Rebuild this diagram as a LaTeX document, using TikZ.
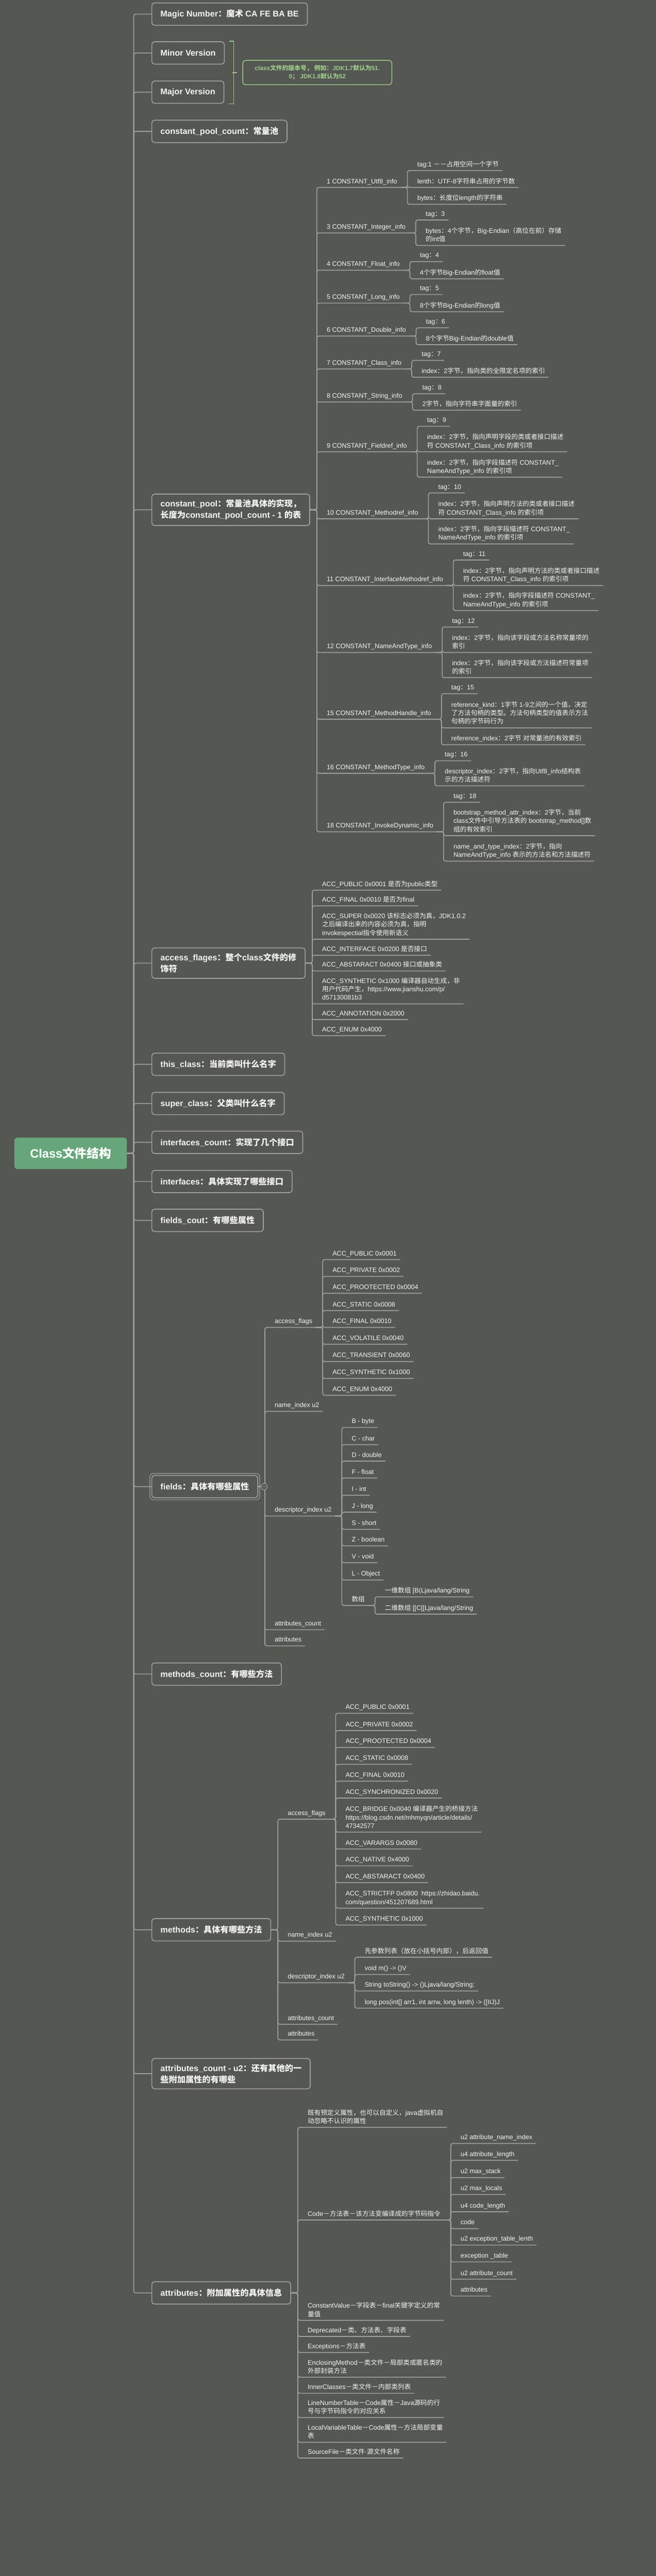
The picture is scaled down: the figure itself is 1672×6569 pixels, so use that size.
\documentclass[tikz,border=0pt]{standalone}
\usepackage{fontspec}
\setmainfont{Liberation Sans}
\newfontfamily\latinfont{Liberation Sans}
\newfontfamily\cjkfont{Noto Sans CJK SC}

% switch to the CJK font for Chinese characters
\XeTeXinterchartokenstate=1
\newXeTeXintercharclass\cjkclass
\newcount\cjkcode
\cjkcode="2E80
\loop\XeTeXcharclass\cjkcode=\cjkclass\advance\cjkcode by 1 \ifnum\cjkcode<"A000 \repeat
\cjkcode="FF00
\loop\XeTeXcharclass\cjkcode=\cjkclass\advance\cjkcode by 1 \ifnum\cjkcode<"FFF0 \repeat
\XeTeXinterchartoks 0 \cjkclass={\cjkfont}
\XeTeXinterchartoks 4095 \cjkclass={\cjkfont}
\XeTeXinterchartoks \cjkclass 0={\latinfont}
\XeTeXinterchartoks \cjkclass 4095={\latinfont}

\definecolor{bg}{HTML}{555753}
\definecolor{linegray}{HTML}{A0A0A0}
\definecolor{fg}{HTML}{F4F4F4}
\definecolor{rootgreen}{HTML}{67A67A}
\definecolor{notegreen}{HTML}{9CCB8B}

\tikzset{
  root/.style={fill=rootgreen, rounded corners=8pt, text=white,
    font={\bfseries\fontsize{31pt}{36pt}\selectfont}, minimum width=287pt, minimum height=80pt},
  box/.style={draw=linegray, line width=2.2pt, rounded corners=7pt, fill=bg, text=fg,
    font={\bfseries\fontsize{21.3pt}{29pt}\selectfont}, inner xsep=22pt, inner ysep=14pt,
    minimum height=57pt, anchor=west, align=left},
  leaf/.style={text=fg, font={\fontsize{16.6pt}{21.5pt}\selectfont}, anchor=south west,
    inner xsep=9pt, inner ysep=6pt, text depth=4pt, align=left},
  note/.style={draw=notegreen, text=notegreen, line width=2pt, rounded corners=7pt, anchor=west,
    align=center, minimum width=380pt, minimum height=62pt,
    font={\bfseries\fontsize{15.5pt}{21pt}\selectfont}},
  branch/.style={draw=linegray, line width=2.2pt, rounded corners=5pt},
  summary/.style={draw=notegreen, line width=2pt},
  selring/.style={draw=linegray, line width=1.5pt, rounded corners=9pt},
  fold/.style={draw=linegray, line width=1.5pt, fill=bg}
}

\begin{document}
\begin{tikzpicture}[x=1pt, y=-1pt]

% Draw the background
\useasboundingbox (0,0) rectangle (1672,6569);
\fill[bg] (0,0) rectangle (1672,6569);

% Draw the root
\node[root] (root) at (180,2941) {Class文件结构};

%% Draw the top level items
\node[box] (magic) at (386,36) {Magic Number：魔术 CA FE BA BE};
\node[box] (minor) at (386,135) {Minor Version};
\node[box] (major) at (386,235) {Major Version};
\node[box] (cpcount) at (386,335) {constant\_pool\_count：常量池};
\node[box] (cpool) at (386,1300) {constant\_pool：常量池具体的实现，\\长度为constant\_pool\_count - 1 的表};
\node[box] (access) at (386,2456) {access\_flages：整个class文件的修\\饰符};
\node[box] (thisc) at (386,2714) {this\_class：当前类叫什么名字};
\node[box] (superc) at (386,2814) {super\_class：父类叫什么名字};
\node[box] (ifcount) at (386,2913) {interfaces\_count：实现了几个接口};
\node[box] (ifaces) at (386,3013) {interfaces：具体实现了哪些接口};
\node[box] (fcount) at (386,3112) {fields\_cout：有哪些属性};
\node[box] (fields) at (386,3791) {fields：具体有哪些属性};
\node[box] (mcount) at (386,4269) {methods\_count：有哪些方法};
\node[box] (methods) at (386,4921) {methods：具体有哪些方法};
\node[box] (acount) at (386,5288) {attributes\_count - u2：还有其他的一\\些附加属性的有哪些};
\node[box] (attrs) at (386,5847) {attributes：附加属性的具体信息};

% Draw the trunk
\draw[branch] (root.east) -| ([xshift=-45pt]magic.west) -- (magic.west);
\draw[branch] (root.east) -| ([xshift=-45pt]minor.west) -- (minor.west);
\draw[branch] (root.east) -| ([xshift=-45pt]major.west) -- (major.west);
\draw[branch] (root.east) -| ([xshift=-45pt]cpcount.west) -- (cpcount.west);
\draw[branch] (root.east) -| ([xshift=-45pt]cpool.west) -- (cpool.west);
\draw[branch] (root.east) -| ([xshift=-45pt]access.west) -- (access.west);
\draw[branch] (root.east) -| ([xshift=-45pt]thisc.west) -- (thisc.west);
\draw[branch] (root.east) -| ([xshift=-45pt]superc.west) -- (superc.west);
\draw[branch] (root.east) -| ([xshift=-45pt]ifcount.west) -- (ifcount.west);
\draw[branch] (root.east) -| ([xshift=-45pt]ifaces.west) -- (ifaces.west);
\draw[branch] (root.east) -| ([xshift=-45pt]fcount.west) -- (fcount.west);
\draw[branch] (root.east) -| ([xshift=-45pt]fields.west) -- (fields.west);
\draw[branch] (root.east) -| ([xshift=-45pt]mcount.west) -- (mcount.west);
\draw[branch] (root.east) -| ([xshift=-45pt]methods.west) -- (methods.west);
\draw[branch] (root.east) -| ([xshift=-45pt]acount.west) -- (acount.west);
\draw[branch] (root.east) -| ([xshift=-45pt]attrs.west) -- (attrs.west);

%% Version note
\node[note] (vnote) at (618,185) {class文件的版本号， 例如：JDK1.7默认为51.\\0； JDK1.8默认为52};
\draw[summary] ([xshift=11pt]minor.north east) -| ([xshift=24pt]major.south east) -- ([xshift=11pt]major.south east);
\draw[summary] ([xshift=-14pt]vnote.west) -- ([xshift=-26pt]vnote.west);

% Draw the constant pool
\node[leaf] (cp1) at ([shift={(33,-822)}]cpool.east) {1 CONSTANT\_Utf8\_info};
\node[leaf] (cp3) at ([shift={(33,-706)}]cpool.east) {3 CONSTANT\_Integer\_info};
\node[leaf] (cp4) at ([shift={(33,-611)}]cpool.east) {4 CONSTANT\_Float\_info};
\node[leaf] (cp5) at ([shift={(33,-527)}]cpool.east) {5 CONSTANT\_Long\_info};
\node[leaf] (cp6) at ([shift={(33,-443)}]cpool.east) {6 CONSTANT\_Double\_info};
\node[leaf] (cp7) at ([shift={(33,-359)}]cpool.east) {7 CONSTANT\_Class\_info};
\node[leaf] (cp8) at ([shift={(33,-275)}]cpool.east) {8 CONSTANT\_String\_info};
\node[leaf] (cp9) at ([shift={(33,-148)}]cpool.east) {9 CONSTANT\_Fieldref\_info};
\node[leaf] (cp10) at ([shift={(33,23)}]cpool.east) {10 CONSTANT\_Methodref\_info};
\node[leaf] (cp11) at ([shift={(33,193)}]cpool.east) {11 CONSTANT\_InterfaceMethodref\_info};
\node[leaf] (cp12) at ([shift={(33,364)}]cpool.east) {12 CONSTANT\_NameAndType\_info};
\node[leaf] (cp15) at ([shift={(33,534)}]cpool.east) {15 CONSTANT\_MethodHandle\_info};
\node[leaf] (cp16) at ([shift={(33,672)}]cpool.east) {16 CONSTANT\_MethodType\_info};
\node[leaf] (cp18) at ([shift={(33,821)}]cpool.east) {18 CONSTANT\_InvokeDynamic\_info};

\draw[branch] (cpool.east) -| ([xshift=-16pt]cp1.south west) -- (cp1.south east);
\draw[branch] (cpool.east) -| ([xshift=-16pt]cp3.south west) -- (cp3.south east);
\draw[branch] (cpool.east) -| ([xshift=-16pt]cp4.south west) -- (cp4.south east);
\draw[branch] (cpool.east) -| ([xshift=-16pt]cp5.south west) -- (cp5.south east);
\draw[branch] (cpool.east) -| ([xshift=-16pt]cp6.south west) -- (cp6.south east);
\draw[branch] (cpool.east) -| ([xshift=-16pt]cp7.south west) -- (cp7.south east);
\draw[branch] (cpool.east) -| ([xshift=-16pt]cp8.south west) -- (cp8.south east);
\draw[branch] (cpool.east) -| ([xshift=-16pt]cp9.south west) -- (cp9.south east);
\draw[branch] (cpool.east) -| ([xshift=-16pt]cp10.south west) -- (cp10.south east);
\draw[branch] (cpool.east) -| ([xshift=-16pt]cp11.south west) -- (cp11.south east);
\draw[branch] (cpool.east) -| ([xshift=-16pt]cp12.south west) -- (cp12.south east);
\draw[branch] (cpool.east) -| ([xshift=-16pt]cp15.south west) -- (cp15.south east);
\draw[branch] (cpool.east) -| ([xshift=-16pt]cp16.south west) -- (cp16.south east);
\draw[branch] (cpool.east) -| ([xshift=-16pt]cp18.south west) -- (cp18.south east);

%% Constant entries
\node[leaf] (cp1a) at ([shift={(33,-43)}]cp1.south east) {tag:1 －－占用空间一个字节};
\node[leaf] (cp1b) at ([shift={(33,0)}]cp1.south east) {lenth：UTF-8字符串占用的字节数};
\node[leaf] (cp1c) at ([shift={(33,43)}]cp1.south east) {bytes：长度位length的字符串};
\node[leaf] (cp3a) at ([shift={(33,-33)}]cp3.south east) {tag：3};
\node[leaf] (cp3b) at ([shift={(33,32)}]cp3.south east) {bytes：4个字节，Big-Endian（高位在前）存储\\的int值};
\node[leaf] (cp4a) at ([shift={(33,-22)}]cp4.south east) {tag：4};
\node[leaf] (cp4b) at ([shift={(33,22)}]cp4.south east) {4个字节Big-Endian的float值};
\node[leaf] (cp5a) at ([shift={(33,-22)}]cp5.south east) {tag：5};
\node[leaf] (cp5b) at ([shift={(33,22)}]cp5.south east) {8个字节Big-Endian的long值};
\node[leaf] (cp6a) at ([shift={(33,-21)}]cp6.south east) {tag：6};
\node[leaf] (cp6b) at ([shift={(33,22)}]cp6.south east) {8个字节Big-Endian的double值};
\node[leaf] (cp7a) at ([shift={(33,-22)}]cp7.south east) {tag：7};
\node[leaf] (cp7b) at ([shift={(33,21)}]cp7.south east) {index：2字节，指向类的全限定名项的索引};
\node[leaf] (cp8a) at ([shift={(33,-21)}]cp8.south east) {tag：8};
\node[leaf] (cp8b) at ([shift={(33,21)}]cp8.south east) {2字节，指向字符串字面量的索引};
\node[leaf] (cp9a) at ([shift={(33,-65)}]cp9.south east) {tag：9};
\node[leaf] (cp9b) at ([shift={(33,0)}]cp9.south east) {index：2字节，指向声明字段的类或者接口描述\\符 CONSTANT\_Class\_info 的索引项};
\node[leaf] (cp9c) at ([shift={(33,65)}]cp9.south east) {index：2字节，指向字段描述符 CONSTANT\_\\NameAndType\_info 的索引项};
\node[leaf] (cp10a) at ([shift={(33,-66)}]cp10.south east) {tag：10};
\node[leaf] (cp10b) at ([shift={(33,0)}]cp10.south east) {index：2字节，指向声明方法的类或者接口描述\\符 CONSTANT\_Class\_info 的索引项};
\node[leaf] (cp10c) at ([shift={(33,64)}]cp10.south east) {index：2字节，指向字段描述符 CONSTANT\_\\NameAndType\_info 的索引项};
\node[leaf] (cp11a) at ([shift={(33,-65)}]cp11.south east) {tag：11};
\node[leaf] (cp11b) at ([shift={(33,0)}]cp11.south east) {index：2字节，指向声明方法的类或者接口描述\\符 CONSTANT\_Class\_info 的索引项};
\node[leaf] (cp11c) at ([shift={(33,64)}]cp11.south east) {index：2字节，指向字段描述符 CONSTANT\_\\NameAndType\_info 的索引项};
\node[leaf] (cp12a) at ([shift={(33,-65)}]cp12.south east) {tag：12};
\node[leaf] (cp12b) at ([shift={(33,0)}]cp12.south east) {index：2字节，指向该字段或方法名称常量项的\\索引};
\node[leaf] (cp12c) at ([shift={(33,64)}]cp12.south east) {index：2字节，指向该字段或方法描述符常量项\\的索引};
\node[leaf] (cp15a) at ([shift={(33,-65)}]cp15.south east) {tag：15};
\node[leaf] (cp15b) at ([shift={(33,22)}]cp15.south east) {reference\_kind：1字节 1-9之间的一个值，决定\\了方法句柄的类型。方法句柄类型的值表示方法\\句柄的字节码行为};
\node[leaf] (cp15c) at ([shift={(33,65)}]cp15.south east) {reference\_index：2字节 对常量池的有效索引};
\node[leaf] (cp16a) at ([shift={(33,-32)}]cp16.south east) {tag：16};
\node[leaf] (cp16b) at ([shift={(33,32)}]cp16.south east) {descriptor\_index：2字节，指向Utf8\_info结构表\\示的方法描述符};
\node[leaf] (cp18a) at ([shift={(33,-75)}]cp18.south east) {tag：18};
\node[leaf] (cp18b) at ([shift={(33,10)}]cp18.south east) {bootstrap\_method\_attr\_index：2字节，当前\\class文件中引导方法表的 bootstrap\_method[]数\\组的有效索引};
\node[leaf] (cp18c) at ([shift={(33,75)}]cp18.south east) {name\_and\_type\_index：2字节，指向\\NameAndType\_info 表示的方法名和方法描述符};

\draw[branch] (cp1.south east) -| ([xshift=-16pt]cp1a.south west) -- (cp1a.south east);
\draw[branch] (cp1.south east) -| ([xshift=-16pt]cp1b.south west) -- (cp1b.south east);
\draw[branch] (cp1.south east) -| ([xshift=-16pt]cp1c.south west) -- (cp1c.south east);
\draw[branch] (cp3.south east) -| ([xshift=-16pt]cp3a.south west) -- (cp3a.south east);
\draw[branch] (cp3.south east) -| ([xshift=-16pt]cp3b.south west) -- (cp3b.south east);
\draw[branch] (cp4.south east) -| ([xshift=-16pt]cp4a.south west) -- (cp4a.south east);
\draw[branch] (cp4.south east) -| ([xshift=-16pt]cp4b.south west) -- (cp4b.south east);
\draw[branch] (cp5.south east) -| ([xshift=-16pt]cp5a.south west) -- (cp5a.south east);
\draw[branch] (cp5.south east) -| ([xshift=-16pt]cp5b.south west) -- (cp5b.south east);
\draw[branch] (cp6.south east) -| ([xshift=-16pt]cp6a.south west) -- (cp6a.south east);
\draw[branch] (cp6.south east) -| ([xshift=-16pt]cp6b.south west) -- (cp6b.south east);
\draw[branch] (cp7.south east) -| ([xshift=-16pt]cp7a.south west) -- (cp7a.south east);
\draw[branch] (cp7.south east) -| ([xshift=-16pt]cp7b.south west) -- (cp7b.south east);
\draw[branch] (cp8.south east) -| ([xshift=-16pt]cp8a.south west) -- (cp8a.south east);
\draw[branch] (cp8.south east) -| ([xshift=-16pt]cp8b.south west) -- (cp8b.south east);
\draw[branch] (cp9.south east) -| ([xshift=-16pt]cp9a.south west) -- (cp9a.south east);
\draw[branch] (cp9.south east) -| ([xshift=-16pt]cp9b.south west) -- (cp9b.south east);
\draw[branch] (cp9.south east) -| ([xshift=-16pt]cp9c.south west) -- (cp9c.south east);
\draw[branch] (cp10.south east) -| ([xshift=-16pt]cp10a.south west) -- (cp10a.south east);
\draw[branch] (cp10.south east) -| ([xshift=-16pt]cp10b.south west) -- (cp10b.south east);
\draw[branch] (cp10.south east) -| ([xshift=-16pt]cp10c.south west) -- (cp10c.south east);
\draw[branch] (cp11.south east) -| ([xshift=-16pt]cp11a.south west) -- (cp11a.south east);
\draw[branch] (cp11.south east) -| ([xshift=-16pt]cp11b.south west) -- (cp11b.south east);
\draw[branch] (cp11.south east) -| ([xshift=-16pt]cp11c.south west) -- (cp11c.south east);
\draw[branch] (cp12.south east) -| ([xshift=-16pt]cp12a.south west) -- (cp12a.south east);
\draw[branch] (cp12.south east) -| ([xshift=-16pt]cp12b.south west) -- (cp12b.south east);
\draw[branch] (cp12.south east) -| ([xshift=-16pt]cp12c.south west) -- (cp12c.south east);
\draw[branch] (cp15.south east) -| ([xshift=-16pt]cp15a.south west) -- (cp15a.south east);
\draw[branch] (cp15.south east) -| ([xshift=-16pt]cp15b.south west) -- (cp15b.south east);
\draw[branch] (cp15.south east) -| ([xshift=-16pt]cp15c.south west) -- (cp15c.south east);
\draw[branch] (cp16.south east) -| ([xshift=-16pt]cp16a.south west) -- (cp16a.south east);
\draw[branch] (cp16.south east) -| ([xshift=-16pt]cp16b.south west) -- (cp16b.south east);
\draw[branch] (cp18.south east) -| ([xshift=-16pt]cp18a.south west) -- (cp18a.south east);
\draw[branch] (cp18.south east) -| ([xshift=-16pt]cp18b.south west) -- (cp18b.south east);
\draw[branch] (cp18.south east) -| ([xshift=-16pt]cp18c.south west) -- (cp18c.south east);

% Draw the access flags
\node[leaf] (af1) at ([shift={(33,-186)}]access.east) {ACC\_PUBLIC 0x0001 是否为public类型};
\node[leaf] (af2) at ([shift={(33,-146)}]access.east) {ACC\_FINAL 0x0010 是否为final};
\node[leaf] (af3) at ([shift={(33,-61)}]access.east) {ACC\_SUPER 0x0020 该标志必须为真，JDK1.0.2\\之后编译出来的内容必须为真，指明\\invokespectial指令使用新语义};
\node[leaf] (af4) at ([shift={(33,-20)}]access.east) {ACC\_INTERFACE 0x0200 是否接口};
\node[leaf] (af5) at ([shift={(33,20)}]access.east) {ACC\_ABSTARACT 0x0400 接口或抽象类};
\node[leaf] (af6) at ([shift={(33,104)}]access.east) {ACC\_SYNTHETIC 0x1000 编译器自动生成，非\\用户代码产生，https://www.jianshu.com/p/\\d57130081b3};
\node[leaf] (af7) at ([shift={(33,144)}]access.east) {ACC\_ANNOTATION 0x2000};
\node[leaf] (af8) at ([shift={(33,185)}]access.east) {ACC\_ENUM 0x4000};

\draw[branch] (access.east) -| ([xshift=-16pt]af1.south west) -- (af1.south east);
\draw[branch] (access.east) -| ([xshift=-16pt]af2.south west) -- (af2.south east);
\draw[branch] (access.east) -| ([xshift=-16pt]af3.south west) -- (af3.south east);
\draw[branch] (access.east) -| ([xshift=-16pt]af4.south west) -- (af4.south east);
\draw[branch] (access.east) -| ([xshift=-16pt]af5.south west) -- (af5.south east);
\draw[branch] (access.east) -| ([xshift=-16pt]af6.south west) -- (af6.south east);
\draw[branch] (access.east) -| ([xshift=-16pt]af7.south west) -- (af7.south east);
\draw[branch] (access.east) -| ([xshift=-16pt]af8.south west) -- (af8.south east);

% Draw the fields
\node[leaf] (fa) at ([shift={(33,-406)}]fields.east) {access\_flags};
\node[leaf] (fn) at ([shift={(33,-192)}]fields.east) {name\_index u2};
\node[leaf] (fd) at ([shift={(33,75)}]fields.east) {descriptor\_index u2};
\node[leaf] (fc) at ([shift={(33,365)}]fields.east) {attributes\_count};
\node[leaf] (fat) at ([shift={(33,406)}]fields.east) {attributes};

\draw[branch] (fields.east) -| ([xshift=-16pt]fa.south west) -- (fa.south east);
\draw[branch] (fields.east) -| ([xshift=-16pt]fn.south west) -- (fn.south east);
\draw[branch] (fields.east) -| ([xshift=-16pt]fd.south west) -- (fd.south east);
\draw[branch] (fields.east) -| ([xshift=-16pt]fc.south west) -- (fc.south east);
\draw[branch] (fields.east) -| ([xshift=-16pt]fat.south west) -- (fat.south east);

%% Field flags
\node[leaf] (fa1) at ([shift={(33,-173)}]fa.south east) {ACC\_PUBLIC 0x0001};
\node[leaf] (fa2) at ([shift={(33,-130)}]fa.south east) {ACC\_PRIVATE 0x0002};
\node[leaf] (fa3) at ([shift={(33,-87)}]fa.south east) {ACC\_PROOTECTED 0x0004};
\node[leaf] (fa4) at ([shift={(33,-43)}]fa.south east) {ACC\_STATIC 0x0008};
\node[leaf] (fa5) at ([shift={(33,0)}]fa.south east) {ACC\_FINAL 0x0010};
\node[leaf] (fa6) at ([shift={(33,43)}]fa.south east) {ACC\_VOLATILE 0x0040};
\node[leaf] (fa7) at ([shift={(33,87)}]fa.south east) {ACC\_TRANSIENT 0x0060};
\node[leaf] (fa8) at ([shift={(33,130)}]fa.south east) {ACC\_SYNTHETIC 0x1000};
\node[leaf] (fa9) at ([shift={(33,173)}]fa.south east) {ACC\_ENUM 0x4000};

\draw[branch] (fa.south east) -| ([xshift=-16pt]fa1.south west) -- (fa1.south east);
\draw[branch] (fa.south east) -| ([xshift=-16pt]fa2.south west) -- (fa2.south east);
\draw[branch] (fa.south east) -| ([xshift=-16pt]fa3.south west) -- (fa3.south east);
\draw[branch] (fa.south east) -| ([xshift=-16pt]fa4.south west) -- (fa4.south east);
\draw[branch] (fa.south east) -| ([xshift=-16pt]fa5.south west) -- (fa5.south east);
\draw[branch] (fa.south east) -| ([xshift=-16pt]fa6.south west) -- (fa6.south east);
\draw[branch] (fa.south east) -| ([xshift=-16pt]fa7.south west) -- (fa7.south east);
\draw[branch] (fa.south east) -| ([xshift=-16pt]fa8.south west) -- (fa8.south east);
\draw[branch] (fa.south east) -| ([xshift=-16pt]fa9.south west) -- (fa9.south east);

%% Field descriptors
\node[leaf] (fd1) at ([shift={(33,-226)}]fd.south east) {B - byte};
\node[leaf] (fd2) at ([shift={(33,-182)}]fd.south east) {C - char};
\node[leaf] (fd3) at ([shift={(33,-140)}]fd.south east) {D - double};
\node[leaf] (fd4) at ([shift={(33,-97)}]fd.south east) {F - float};
\node[leaf] (fd5) at ([shift={(33,-53)}]fd.south east) {I - int};
\node[leaf] (fd6) at ([shift={(33,-10)}]fd.south east) {J - long};
\node[leaf] (fd7) at ([shift={(33,34)}]fd.south east) {S - short};
\node[leaf] (fd8) at ([shift={(33,76)}]fd.south east) {Z - boolean};
\node[leaf] (fd9) at ([shift={(33,119)}]fd.south east) {V - void};
\node[leaf] (fd10) at ([shift={(33,163)}]fd.south east) {L - Object};
\node[leaf] (fd11) at ([shift={(33,228)}]fd.south east) {数组};
\node[leaf] (fd11a) at ([shift={(33,-22)}]fd11.south east) {一维数组 [B(Ljava/lang/String};
\node[leaf] (fd11b) at ([shift={(33,22)}]fd11.south east) {二维数组 [[C[[Ljava/lang/String};

\draw[branch] (fd.south east) -| ([xshift=-16pt]fd1.south west) -- (fd1.south east);
\draw[branch] (fd.south east) -| ([xshift=-16pt]fd2.south west) -- (fd2.south east);
\draw[branch] (fd.south east) -| ([xshift=-16pt]fd3.south west) -- (fd3.south east);
\draw[branch] (fd.south east) -| ([xshift=-16pt]fd4.south west) -- (fd4.south east);
\draw[branch] (fd.south east) -| ([xshift=-16pt]fd5.south west) -- (fd5.south east);
\draw[branch] (fd.south east) -| ([xshift=-16pt]fd6.south west) -- (fd6.south east);
\draw[branch] (fd.south east) -| ([xshift=-16pt]fd7.south west) -- (fd7.south east);
\draw[branch] (fd.south east) -| ([xshift=-16pt]fd8.south west) -- (fd8.south east);
\draw[branch] (fd.south east) -| ([xshift=-16pt]fd9.south west) -- (fd9.south east);
\draw[branch] (fd.south east) -| ([xshift=-16pt]fd10.south west) -- (fd10.south east);
\draw[branch] (fd.south east) -| ([xshift=-16pt]fd11.south west) -- (fd11.south east);
\draw[branch] (fd11.south east) -| ([xshift=-16pt]fd11a.south west) -- (fd11a.south east);
\draw[branch] (fd11.south east) -| ([xshift=-16pt]fd11b.south west) -- (fd11b.south east);

%% Selected node and fold button
\draw[selring] ([shift={(-4,-4)}]fields.north west) rectangle ([shift={(4,4)}]fields.south east);
\draw[fold] ([xshift=15pt]fields.east) circle (8pt);
\draw[draw=linegray, line width=1.5pt] ([xshift=10pt]fields.east) -- ([xshift=20pt]fields.east);

% Draw the methods
\node[leaf] (ma) at ([shift={(33,-282)}]methods.east) {access\_flags};
\node[leaf] (mn) at ([shift={(33,29)}]methods.east) {name\_index u2};
\node[leaf] (md) at ([shift={(33,135)}]methods.east) {descriptor\_index u2};
\node[leaf] (mc) at ([shift={(33,241)}]methods.east) {attributes\_count};
\node[leaf] (mat) at ([shift={(33,281)}]methods.east) {attributes};

\draw[branch] (methods.east) -| ([xshift=-16pt]ma.south west) -- (ma.south east);
\draw[branch] (methods.east) -| ([xshift=-16pt]mn.south west) -- (mn.south east);
\draw[branch] (methods.east) -| ([xshift=-16pt]md.south west) -- (md.south east);
\draw[branch] (methods.east) -| ([xshift=-16pt]mc.south west) -- (mc.south east);
\draw[branch] (methods.east) -| ([xshift=-16pt]mat.south west) -- (mat.south east);

%% Method flags
\node[leaf] (ma1) at ([shift={(33,-270)}]ma.south east) {ACC\_PUBLIC 0x0001};
\node[leaf] (ma2) at ([shift={(33,-226)}]ma.south east) {ACC\_PRIVATE 0x0002};
\node[leaf] (ma3) at ([shift={(33,-183)}]ma.south east) {ACC\_PROOTECTED 0x0004};
\node[leaf] (ma4) at ([shift={(33,-140)}]ma.south east) {ACC\_STATIC 0x0008};
\node[leaf] (ma5) at ([shift={(33,-97)}]ma.south east) {ACC\_FINAL 0x0010};
\node[leaf] (ma6) at ([shift={(33,-54)}]ma.south east) {ACC\_SYNCHRONIZED 0x0020};
\node[leaf] (ma7) at ([shift={(33,33)}]ma.south east) {ACC\_BRIDGE 0x0040 编译器产生的桥接方法\\https://blog.csdn.net/mhmyqn/article/details/\\47342577};
\node[leaf] (ma8) at ([shift={(33,76)}]ma.south east) {ACC\_VARARGS 0x0080};
\node[leaf] (ma9) at ([shift={(33,119)}]ma.south east) {ACC\_NATIVE 0x4000};
\node[leaf] (ma10) at ([shift={(33,162)}]ma.south east) {ACC\_ABSTARACT 0x0400};
\node[leaf] (ma11) at ([shift={(33,227)}]ma.south east) {ACC\_STRICTFP 0x0800 \ https://zhidao.baidu.\\com/question/451207689.html};
\node[leaf] (ma12) at ([shift={(33,270)}]ma.south east) {ACC\_SYNTHETIC 0x1000};

\draw[branch] (ma.south east) -| ([xshift=-16pt]ma1.south west) -- (ma1.south east);
\draw[branch] (ma.south east) -| ([xshift=-16pt]ma2.south west) -- (ma2.south east);
\draw[branch] (ma.south east) -| ([xshift=-16pt]ma3.south west) -- (ma3.south east);
\draw[branch] (ma.south east) -| ([xshift=-16pt]ma4.south west) -- (ma4.south east);
\draw[branch] (ma.south east) -| ([xshift=-16pt]ma5.south west) -- (ma5.south east);
\draw[branch] (ma.south east) -| ([xshift=-16pt]ma6.south west) -- (ma6.south east);
\draw[branch] (ma.south east) -| ([xshift=-16pt]ma7.south west) -- (ma7.south east);
\draw[branch] (ma.south east) -| ([xshift=-16pt]ma8.south west) -- (ma8.south east);
\draw[branch] (ma.south east) -| ([xshift=-16pt]ma9.south west) -- (ma9.south east);
\draw[branch] (ma.south east) -| ([xshift=-16pt]ma10.south west) -- (ma10.south east);
\draw[branch] (ma.south east) -| ([xshift=-16pt]ma11.south west) -- (ma11.south east);
\draw[branch] (ma.south east) -| ([xshift=-16pt]ma12.south west) -- (ma12.south east);

%% Method descriptors
\node[leaf] (md1) at ([shift={(33,-65)}]md.south east) {先参数列表（放在小括号内部），后返回值};
\node[leaf] (md2) at ([shift={(33,-21)}]md.south east) {void m() -> ()V};
\node[leaf] (md3) at ([shift={(33,21)}]md.south east) {String toString() -> ()Ljava/lang/String;};
\node[leaf] (md4) at ([shift={(33,65)}]md.south east) {long pos(int[] arr1, int arrw, long lenth) -> ([IIJ)J};

\draw[branch] (md.south east) -| ([xshift=-16pt]md1.south west) -- (md1.south east);
\draw[branch] (md.south east) -| ([xshift=-16pt]md2.south west) -- (md2.south east);
\draw[branch] (md.south east) -| ([xshift=-16pt]md3.south west) -- (md3.south east);
\draw[branch] (md.south east) -| ([xshift=-16pt]md4.south west) -- (md4.south east);

% Draw the attributes
\node[leaf] (at1) at ([shift={(33,-422)}]attrs.east) {既有预定义属性，也可以自定义，java虚拟机自\\动忽略不认识的属性};
\node[leaf] (at2) at ([shift={(33,-186)}]attrs.east) {Code－方法表－该方法变编译成的字节码指令};
\node[leaf] (at3) at ([shift={(33,70)}]attrs.east) {ConstantValue－字段表－final关键字定义的常\\量值};
\node[leaf] (at4) at ([shift={(33,111)}]attrs.east) {Deprecated－类、方法表、字段表};
\node[leaf] (at5) at ([shift={(33,152)}]attrs.east) {Exceptions－方法表};
\node[leaf] (at6) at ([shift={(33,215)}]attrs.east) {EnclosingMethod－类文件－局部类或匿名类的\\外部封装方法};
\node[leaf] (at7) at ([shift={(33,256)}]attrs.east) {InnerClasses－类文件－内部类列表};
\node[leaf] (at8) at ([shift={(33,318)}]attrs.east) {LineNumberTable－Code属性－Java源码的行\\号与字节码指令的对应关系};
\node[leaf] (at9) at ([shift={(33,381)}]attrs.east) {LocalVariableTable－Code属性－方法局部变量\\表};
\node[leaf] (at10) at ([shift={(33,421)}]attrs.east) {SourceFile－类文件·源文件名称};

\draw[branch] (attrs.east) -| ([xshift=-16pt]at1.south west) -- (at1.south east);
\draw[branch] (attrs.east) -| ([xshift=-16pt]at2.south west) -- (at2.south east);
\draw[branch] (attrs.east) -| ([xshift=-16pt]at3.south west) -- (at3.south east);
\draw[branch] (attrs.east) -| ([xshift=-16pt]at4.south west) -- (at4.south east);
\draw[branch] (attrs.east) -| ([xshift=-16pt]at5.south west) -- (at5.south east);
\draw[branch] (attrs.east) -| ([xshift=-16pt]at6.south west) -- (at6.south east);
\draw[branch] (attrs.east) -| ([xshift=-16pt]at7.south west) -- (at7.south east);
\draw[branch] (attrs.east) -| ([xshift=-16pt]at8.south west) -- (at8.south east);
\draw[branch] (attrs.east) -| ([xshift=-16pt]at9.south west) -- (at9.south east);
\draw[branch] (attrs.east) -| ([xshift=-16pt]at10.south west) -- (at10.south east);

%% Code attribute
\node[leaf] (co1) at ([shift={(33,-195)}]at2.south east) {u2 attribute\_name\_index};
\node[leaf] (co2) at ([shift={(33,-152)}]at2.south east) {u4 attribute\_length};
\node[leaf] (co3) at ([shift={(33,-108)}]at2.south east) {u2 max\_stack};
\node[leaf] (co4) at ([shift={(33,-65)}]at2.south east) {u2 max\_locals};
\node[leaf] (co5) at ([shift={(33,-21)}]at2.south east) {u4 code\_length};
\node[leaf] (co6) at ([shift={(33,22)}]at2.south east) {code};
\node[leaf] (co7) at ([shift={(33,64)}]at2.south east) {u2 exception\_table\_lenth};
\node[leaf] (co8) at ([shift={(33,107)}]at2.south east) {exception \_table};
\node[leaf] (co9) at ([shift={(33,151)}]at2.south east) {u2 attribute\_count};
\node[leaf] (co10) at ([shift={(33,194)}]at2.south east) {attributes};

\draw[branch] (at2.south east) -| ([xshift=-16pt]co1.south west) -- (co1.south east);
\draw[branch] (at2.south east) -| ([xshift=-16pt]co2.south west) -- (co2.south east);
\draw[branch] (at2.south east) -| ([xshift=-16pt]co3.south west) -- (co3.south east);
\draw[branch] (at2.south east) -| ([xshift=-16pt]co4.south west) -- (co4.south east);
\draw[branch] (at2.south east) -| ([xshift=-16pt]co5.south west) -- (co5.south east);
\draw[branch] (at2.south east) -| ([xshift=-16pt]co6.south west) -- (co6.south east);
\draw[branch] (at2.south east) -| ([xshift=-16pt]co7.south west) -- (co7.south east);
\draw[branch] (at2.south east) -| ([xshift=-16pt]co8.south west) -- (co8.south east);
\draw[branch] (at2.south east) -| ([xshift=-16pt]co9.south west) -- (co9.south east);
\draw[branch] (at2.south east) -| ([xshift=-16pt]co10.south west) -- (co10.south east);

\end{tikzpicture}
\end{document}
